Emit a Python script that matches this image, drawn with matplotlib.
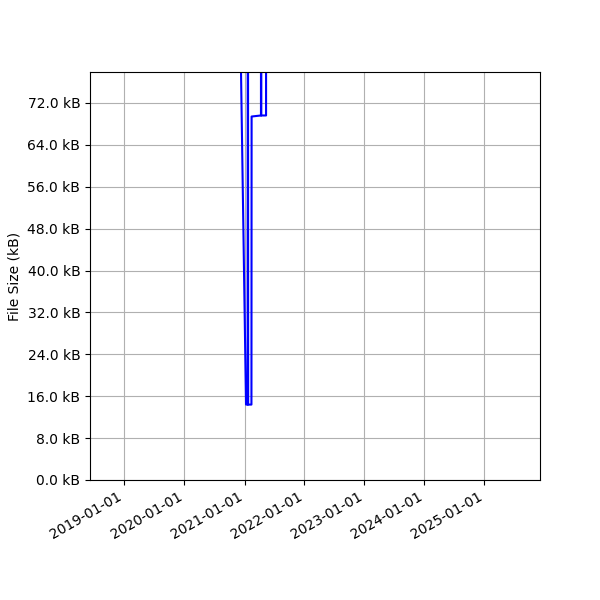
import matplotlib
matplotlib.use("Agg")
import matplotlib.pyplot as plt
import matplotlib.dates as mdates
from matplotlib.ticker import MultipleLocator, FuncFormatter
import pandas as pd

# Commit dates and file sizes (kB)
dates = ['2020-11-10', '2021-01-10', '2021-01-20', '2021-01-21', '2021-01-23',
         '2021-02-12', '2021-02-13', '2021-04-11', '2021-04-12', '2021-04-13',
         '2021-05-12', '2021-05-13']
sizes_kb = [141.4, 14.4, 14.4, 200.0, 14.4,
            14.4, 69.4, 69.6, 200.0, 69.6,
            69.6, 200.0]

x = pd.to_datetime(dates)

fig, ax = plt.subplots(figsize=(6, 6), dpi=100)
ax.plot(x, sizes_kb, color='blue', linewidth=1.5)

ax.set_xlim(pd.Timestamp('2018-06-05'), pd.Timestamp('2025-12-05'))
ax.set_ylim(0, 77.9)
ax.yaxis.set_major_locator(MultipleLocator(8))
ax.yaxis.set_major_formatter(FuncFormatter(lambda v, p: f"{v:.1f} kB"))
ax.xaxis.set_major_locator(mdates.YearLocator())
ax.xaxis.set_major_formatter(mdates.DateFormatter('%Y-%m-%d'))
ax.set_ylabel('File Size (kB)')
ax.grid(True)
fig.autofmt_xdate()
fig.subplots_adjust(left=0.15, right=0.9, top=0.88, bottom=0.2)
fig.savefig('out.png', dpi=100)
